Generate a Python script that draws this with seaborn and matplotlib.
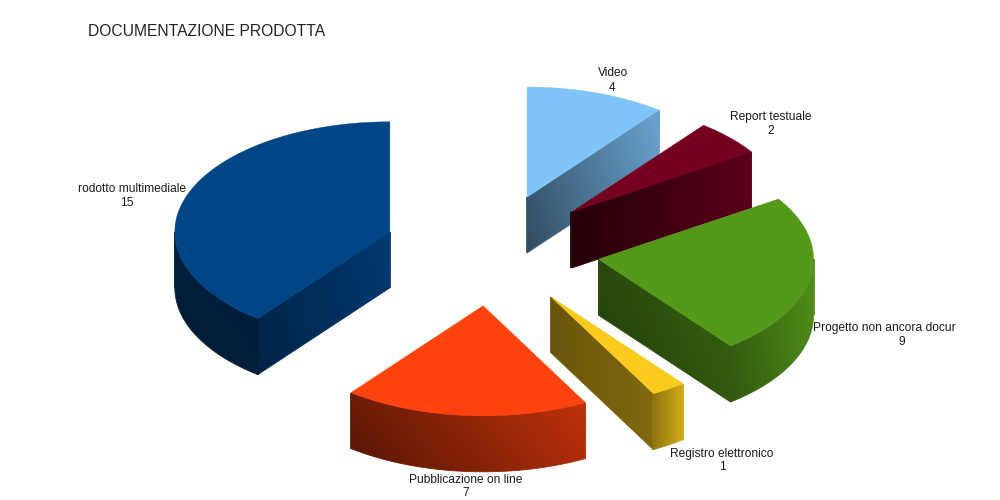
import numpy as np
import matplotlib
matplotlib.use("Agg")
import matplotlib.pyplot as plt
from matplotlib.collections import LineCollection
from matplotlib.patches import Polygon
import seaborn as sns

# ---- data ----
categories = ["Video", "Report testuale", "Progetto non ancora docur",
              "Registro elettronico", "Pubblicazione on line", "rodotto multimediale"]
values = [4, 2, 9, 1, 7, 15]
title = "DOCUMENTAZIONE PRODOTTA"
hex_colors = ["#7fc4f9", "#760020", "#55991a", "#facb1c", "#ff420e", "#004586"]

# ---- styles: shade factors (left, right on screen) ----
radial_shade = [(0.45, 0.78), (0.30, 0.78), (0.44, 0.62), (0.42, 0.52), (0.5, 0.5), (0.55, 0.82)]
wall_shade = [(0.6, 0.6), (0.6, 0.6), (0.62, 0.90), (0.58, 0.84), (0.38, 0.72), (0.42, 0.46)]
vertical_tilt = [0.06, 0.0, 0.04, 0.0, 0.05, 0.03]
label_xy = [(613, 73), (771, 117), (884, 328), (722, 454), (466, 480), (132, 189)]
label_value_xy = [(612, 88), (771, 131), (902, 342), (722, 467), (466, 493), (127, 203)]

# ---- layout of the projected pie ----
CX, CY = 492, 250      # pie centre in the figure's pixel scale
A, B = 215, 110        # ellipse radii of a slice
EXPLODE_X, EXPLODE_Y = 108, 56   # how far slices are pulled out
DEPTH = 56

sns.set_theme(style="white")
plt.rcParams["font.family"] = ["Liberation Sans", "DejaVu Sans"]
palette = sns.color_palette(hex_colors)

fig = plt.figure(figsize=(10, 5), dpi=100, facecolor="white")
ax = fig.add_axes([0, 0, 1, 1])
ax.axis("off")


def pt(theta, ox, oy):
    return ox + A * np.sin(theta), oy - B * np.cos(theta)


def draw_wall(xs, ys, base, shades, tilt, zorder):
    """Shaded vertical band hanging DEPTH below the polyline xs, ys."""
    xs, ys = np.asarray(xs, float), np.asarray(ys, float)
    px = np.r_[xs, xs[::-1]]
    py = np.r_[ys, ys[::-1] + DEPTH]
    x0, x1, y0, y1 = px.min(), px.max(), py.min(), py.max()
    left, right = shades

    def shade(x, y):
        u = (x - x0) / max(x1 - x0, 1)
        v = (y - y0) / max(y1 - y0, 1)
        return left + (right - left) * u + tilt * (0.5 - v) * 2

    # the image reaches past the band, so that only the clip path sets its edge
    pad = 3
    ex0, ex1, ey0, ey1 = x0 - pad, x1 + pad, y0 - pad, y1 + pad
    nx, ny = int(ex1 - ex0) + 2, int(ey1 - ey0) + 2
    gx, gy = np.meshgrid(np.linspace(ex0, ex1, nx), np.linspace(ey0, ey1, ny))
    rgb = np.clip(shade(gx, gy)[..., None] * np.array(base), 0, 1)
    im = ax.imshow(rgb, extent=(ex0, ex1, ey1, ey0), origin="upper", aspect="auto",
                   interpolation="bilinear", zorder=zorder)
    patch = Polygon(np.c_[px, py], closed=True, transform=ax.transData)
    im.set_clip_path(patch)
    # soft outline so the clipped edge is anti-aliased; vertical ends are wider
    # to close the one-pixel gap the clip path leaves
    cx, cy = np.r_[px, px[0]], np.r_[py, py[0]]
    segs = np.stack([np.c_[cx[:-1], cy[:-1]], np.c_[cx[1:], cy[1:]]], axis=1)
    mids = segs.mean(axis=1)
    cols = np.clip(shade(mids[:, 0], mids[:, 1])[:, None] * np.array(base), 0, 1)
    vertical = np.abs(segs[:, 0, 0] - segs[:, 1, 0]) < 1e-6
    widths = np.where(vertical, 1.3, 0.6)
    ax.add_collection(LineCollection(segs, colors=cols, linewidths=widths, zorder=zorder))


total = sum(values)
angles = np.concatenate([[0], np.cumsum(values)]) / total * 2 * np.pi
order = [5, 0, 1, 2, 3, 4]
for k, idx in enumerate(order):
    t0, t1 = angles[idx], angles[idx + 1]
    mid = (t0 + t1) / 2
    ox = CX + EXPLODE_X * np.sin(mid)
    oy = CY - EXPLODE_Y * np.cos(mid)
    base = palette[idx]
    z = 2 + k * 3
    for t, visible in ((t0, np.sin(t0) < -1e-6), (t1, np.sin(t1) > 1e-6)):
        if visible:
            ex, ey = pt(t, ox, oy)
            draw_wall([ox, ex], [oy, ey], base, radial_shade[idx], vertical_tilt[idx], z)
    w0, w1 = max(t0, np.pi / 2), min(t1, 3 * np.pi / 2)
    if w1 > w0:
        th = np.linspace(w0, w1, 80)
        xs, ys = pt(th, ox, oy)
        draw_wall(xs, ys, base, wall_shade[idx], vertical_tilt[idx], z + 1)
    th = np.linspace(t0, t1, 160)
    xs, ys = pt(th, ox, oy)
    ax.fill(np.r_[ox, xs], np.r_[oy, ys], color=base, lw=0.3, zorder=z + 2)

for name, val, (lx, ly), (vx, vy) in zip(categories, values, label_xy, label_value_xy):
    ax.text(lx, ly, name, ha="center", va="center", fontsize=8.64, color="#1c1c1c", zorder=40)
    ax.text(vx, vy, str(val), ha="center", va="center", fontsize=8.64, color="#1c1c1c", zorder=40)

ax.text(88, 31, title, ha="left", va="center", fontsize=11.28, color="#222222", zorder=40)

ax.set_xlim(0, 1000)
ax.set_ylim(500, 0)
fig.savefig("out.png", dpi=100, facecolor="white")
